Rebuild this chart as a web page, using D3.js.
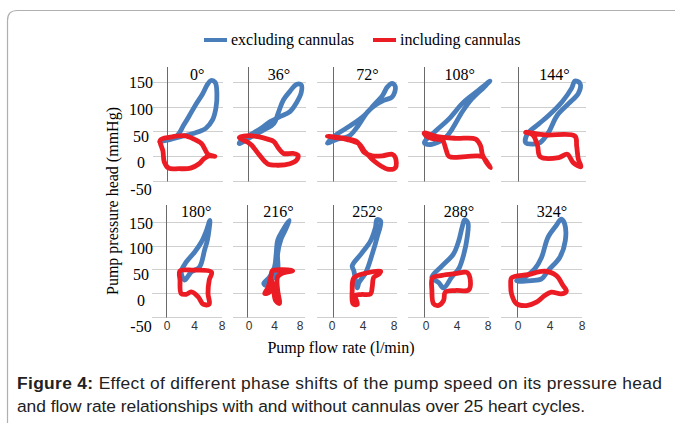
<!DOCTYPE html>
<html>
<head>
<meta charset="utf-8">
<script src="https://cdn.jsdelivr.net/npm/d3@7"></script>
<style>
  body { margin: 0; background: #fff; }
  svg { display: block; }
  .serif { font-family: "Liberation Serif", "Times New Roman", serif; }
  .sans { font-family: "Liberation Sans", Arial, sans-serif; }
</style>
</head>
<body>
<svg id="chart" width="675" height="423"></svg>
<script>
// phase shift of each panel (degrees)
var phases = [0, 36, 72, 108, 144, 180, 216, 252, 288, 324];
var yTicks = [150, 100, 50, 0, -50];
var xTicks = [0, 4, 8];
var seriesNames = ["excluding cannulas", "including cannulas"];

// loops, [flow l/min, pressure mmHg]
var excluding = [
  [[-1.06,29],[0.24,34],[1.45,41],[2.41,63],[3.13,80],[4.1,104],[5.06,125],[5.78,145],[6.27,153],[6.89,149],[7.13,125],[6.99,97],[6.5,73],[5.54,56],[3.86,46],[1.93,39],[0,32]],
  [[-1.14,25],[0.53,39],[2.29,53],[3.6,66],[4.26,90],[4.92,114],[5.8,131],[6.68,145],[7.34,144],[7.34,128],[6.68,107.5],[5.8,90],[4.48,80],[3.16,70],[1.85,56],[0.3,42.5],[-1.0,29]],
  [[-0.71,26],[0.54,44.5],[2.2,61.6],[3.9,82],[5.1,103],[6.2,123],[6.8,140],[7.4,147],[7.8,140],[7.4,120],[6.4,113],[5.3,103],[4.3,89],[3.0,58],[2.0,40],[0.54,34]],
  [[0,27.4],[1.4,51],[3.0,75],[4.6,106],[5.8,123],[7.1,140],[8.0,152],[7.3,140],[5.8,116],[4.6,89],[3.4,55],[2.6,37.6],[1.0,24],[0.2,24]],
  [[0.9,27],[1.1,44.5],[2.45,65],[3.6,82],[5.2,110],[6.3,137],[6.7,152],[7.3,147],[7.1,127],[5.95,106],[4.6,82],[3.6,48],[2.6,27],[1.7,24]],
  [[2.65,26.8],[2.17,44],[2.9,65.5],[4.1,86.6],[5.06,107.7],[5.78,132],[6.27,153.5],[6.17,136],[5.9,111],[5.5,90],[4.8,55],[3.6,44],[2.9,30]],
  [[2.27,19.7],[3.1,33.8],[3.77,55],[4.0,83],[4.2,111],[4.9,132],[5.8,153.5],[5.36,136],[4.7,115],[4.2,83],[4.2,48],[3.5,30],[2.6,16]],
  [[3.04,10.5],[2.6,47],[2.4,57],[3.5,82],[4.7,110],[5.3,138],[5.5,155],[5.96,152],[5.5,117],[4.9,82],[4.1,43],[3.25,22]],
  [[0.95,33],[2.2,57],[3.6,82],[4.26,110],[4.67,138],[5.0,155],[5.4,148],[5.3,117],[4.9,82.5],[4.26,51],[3.4,33.6],[2.4,10.5],[1.78,22]],
  [[-0.08,26],[0.94,33],[2.17,50.7],[3.0,75],[3.8,117.6],[4.8,142],[5.45,156],[5.86,146],[5.94,110.6],[5.25,75],[3.8,47],[3.0,29.6],[1.76,26],[0.1,24.6]]
];
var including = [
  [[-0.96,32],[0.48,38],[2.41,41],[3.86,34],[4.92,25],[5.4,14],[5.88,3],[6.84,-1],[6.0,0],[5.3,-5.5],[4.58,-16],[3.37,-25],[1.69,-26],[0.24,-25],[-0.39,-12],[-0.58,10]],
  [[-1.14,37],[0.09,41],[1.4,39],[2.73,34],[3.6,29],[4.26,15],[4.92,5],[6.24,5],[6.9,1.4],[6.7,-9],[5.8,-16],[4.04,-19],[2.73,-16],[1.63,1.4],[0.53,22],[-0.13,29]],
  [[-0.7,40],[1.4,35.6],[3.0,29],[3.5,17],[3.9,7],[4.9,0],[6.2,0],[7.4,3.4],[7.8,-3.4],[7.8,-24],[6.8,-27],[6.0,-20.5],[5.1,-10],[4.5,0],[3.9,10],[3.3,24],[1.8,33],[0.1,37.7]],
  [[0,46.6],[1.41,39.7],[3.83,35.6],[6.25,34.2],[6.85,20.5],[7.06,3.4],[7.46,-10.3],[8.06,-24],[7.66,-13.7],[7.06,-1.4],[5.04,-1.4],[3.02,-1.4],[2.62,13.7],[2.22,30.8],[0.81,35.6],[0,44.5]],
  [[0.9,48],[3.2,42.5],[6.7,40],[6.9,20.5],[7.1,-7],[7.4,-22],[6.5,-13.7],[5.8,3.4],[4.8,-3.4],[2.6,-1.4],[2.3,20.5],[1.75,42.5]],
  [[2.0,46.5],[3.86,48],[6.5,44],[6.17,26.8],[6.0,-1.4],[6.17,-24],[5.3,-24],[4.6,-8.5],[3.6,2],[2.9,-3],[2.17,-1.4],[2.0,26.8]],
  [[3.45,46.5],[4.7,49],[6.3,46.5],[4.9,42],[4.2,33.8],[4.2,5.6],[4.45,-22.5],[3.9,-15.5],[3.6,12.7],[3.3,26.8],[3.09,2],[2.4,-1.4],[2.86,11],[3.3,37]],
  [[2.6,31.5],[3.9,41],[5.96,45.5],[5.75,40],[5.1,33],[4.9,12],[4.7,-2],[3.5,-3.5],[2.8,-5.6],[3.04,-24.5],[2.5,-23],[2.4,5]],
  [[1.03,32],[2.2,37],[3.84,40.6],[5.3,43],[5.7,26],[5.5,6.3],[3.84,5],[2.6,1.4],[2.4,-16],[1.78,-26.6],[1.16,-23],[0.95,5.6]],
  [[-0.7,31.7],[1.35,38.7],[3.4,45.8],[4.84,36.6],[5.66,15.5],[6.07,3.5],[5.45,-2],[4.2,1.4],[3.4,-5.6],[2.38,-19.7],[1.15,-26.8],[-0.08,-23],[-0.7,-2],[-0.8,19]]
];

var colors = ["#4a7ebb", "#ec1c24"];

// layout: pixel extents of each small plot (x from -2 to 8)
var cols = [
  [[153,223],[233,306],[317,397],[408,490],[501,586]],
  [[152,222],[233,305],[317,397],[408,489],[501,582]]
];
var tickLabelCols = [[167,222],[249,300],[332,394],[426,488],[518,582]];
var rows = [
  {y150: 82, yM50: 180.5, axisTop: 67, titleY: 80, lab: [83, 190]},
  {y150: 222, yM50: 316.5, axisTop: 205, titleY: 217, lab: [223.5, 327]}
];

var svg = d3.select("#chart");

svg.append("rect").attr("width", 675).attr("height", 423).attr("fill", "#fff");
svg.append("path")
  .attr("d", "M7.5,430 V20.5 Q7.5,10.5 17.5,10.5 H690")
  .attr("fill", "none").attr("stroke", "#b0b0b0").attr("stroke-width", 1.2);

// legend
var legend = svg.append("g").attr("class", "serif");
var legX = [204, 373];
seriesNames.forEach(function(name, i) {
  legend.append("line")
    .attr("x1", legX[i]).attr("x2", legX[i] + 23)
    .attr("y1", 40).attr("y2", 40)
    .attr("stroke", colors[i]).attr("stroke-width", 4);
  legend.append("text")
    .attr("x", legX[i] + 27).attr("y", 45)
    .attr("font-size", 16)
    .text(name);
});

phases.forEach(function(ph, i) {
  var r = Math.floor(i / 5), c = i % 5;
  var row = rows[r];
  var x = d3.scaleLinear().domain([-2, 8]).range(cols[r][c]);
  var y = d3.scaleLinear().domain([-50, 150]).range([row.yM50, row.y150]);
  var g = svg.append("g");

  // horizontal gridlines
  g.selectAll(".grid").data(yTicks).enter().append("line")
    .attr("x1", x(-2)).attr("x2", x(8))
    .attr("y1", function(d) { return Math.round(y(d)) + 0.5; })
    .attr("y2", function(d) { return Math.round(y(d)) + 0.5; })
    .attr("stroke", "#cfcfcf").attr("stroke-width", 1);

  // vertical axis at flow = 0
  g.append("line")
    .attr("x1", Math.round(x(0)) + 0.5).attr("x2", Math.round(x(0)) + 0.5)
    .attr("y1", row.axisTop).attr("y2", y(-50) + 1)
    .attr("stroke", "#6a6a6a").attr("stroke-width", 1);

  var line = d3.line()
    .x(function(d) { return x(d[0]); })
    .y(function(d) { return y(d[1]); })
    .curve(d3.curveCatmullRomClosed.alpha(0.5));

  [excluding[i], including[i]].forEach(function(pts, k) {
    g.append("path")
      .attr("d", line(pts))
      .attr("fill", "none")
      .attr("stroke", colors[k])
      .attr("stroke-width", 4.8)
      .attr("stroke-linejoin", "round");
  });

  g.append("text").attr("class", "serif")
    .attr("x", x(4.3)).attr("y", row.titleY)
    .attr("text-anchor", "middle").attr("font-size", 16)
    .text(ph + "°");

  // flow tick labels only on the bottom row
  if (r == 1) {
    var xl = d3.scaleLinear().domain([0, 8]).range(tickLabelCols[c]);
    g.selectAll(".xt").data(xTicks).enter().append("text")
      .attr("class", "sans")
      .attr("x", function(d) { return xl(d); })
      .attr("y", 330)
      .attr("text-anchor", "middle").attr("font-size", 12)
      .attr("fill", "#333")
      .text(function(d) { return d; });
  }
});

// pressure tick labels, left of each row
rows.forEach(function(row) {
  var yl = d3.scaleLinear().domain([150, -50]).range(row.lab);
  svg.selectAll(null).data(yTicks).enter().append("text")
    .attr("class", "serif")
    .attr("x", 141)
    .attr("y", function(d) { return yl(d) + 5; })
    .attr("text-anchor", "middle").attr("font-size", 16)
    .text(function(d) { return d; });
});

// axis titles
svg.append("text").attr("class", "serif")
  .attr("transform", "translate(118,201) rotate(-90)")
  .attr("text-anchor", "middle").attr("font-size", 16)
  .text("Pump pressure head (mmHg)");
svg.append("text").attr("class", "serif")
  .attr("x", 341).attr("y", 353)
  .attr("text-anchor", "middle").attr("font-size", 16)
  .text("Pump flow rate (l/min)");

// caption
var cap = svg.append("g").attr("class", "sans").attr("font-size", 17.4).attr("fill", "#222");
var t1 = cap.append("text").attr("x", 17).attr("y", 389)
  .attr("textLength", 645).attr("lengthAdjust", "spacing");
t1.append("tspan").attr("font-weight", "bold").text("Figure 4:");
t1.append("tspan").text(" Effect of different phase shifts of the pump speed on its pressure head");
cap.append("text").attr("x", 17).attr("y", 412)
  .attr("textLength", 568).attr("lengthAdjust", "spacing")
  .text("and flow rate relationships with and without cannulas over 25 heart cycles.");
</script>
</body>
</html>
